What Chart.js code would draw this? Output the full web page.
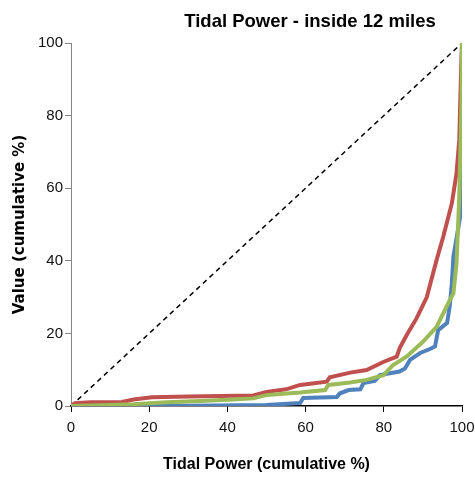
<!DOCTYPE html>
<html>
<head>
<meta charset="utf-8">
<script src="https://cdn.jsdelivr.net/npm/chart.js@4"></script>
<style>
  html, body { margin: 0; padding: 0; background: #fff; }
  #wrap { width: 475px; height: 478px; position: relative; }
</style>
</head>
<body>
<div id="wrap"><canvas id="chart"></canvas></div>
<script>
// valores (x = tidal power cumulativo %, y = value cumulativo %)
var blueX = [0, 30, 50, 58.6, 59.4, 68, 68.8, 71, 74, 74.8, 77.7, 79, 84, 85.4, 86.7, 89.3, 91.8, 93.1, 93.9, 96.2, 96.9, 97.4, 97.8, 99.5, 100];
var blueY = [0, 0.1, 0.3, 0.8, 2.2, 2.5, 3.5, 4.4, 4.6, 6.3, 6.9, 8.5, 9.5, 10.3, 12.7, 14.6, 15.7, 16.4, 20.9, 22.9, 27.8, 33.8, 41.1, 52, 100];

var redX = [0, 1, 5, 13, 16, 20.7, 30, 46.6, 50, 55, 58.6, 65.4, 66.2, 71.4, 75.6, 80, 83.3, 84.1, 85.9, 88.4, 91, 93.5, 95.2, 97.4, 98.6, 99.3, 99.7, 100];
var redY = [0, 0.8, 1, 1.1, 1.8, 2.4, 2.6, 2.9, 3.9, 4.6, 5.8, 6.7, 7.9, 9.2, 9.9, 12.2, 13.6, 16, 19.6, 24.2, 30, 40.2, 46.6, 55.8, 64.1, 73.3, 89.8, 100];

var greenX = [0, 10, 15.9, 24.5, 33, 41.4, 46.6, 50, 58.6, 65, 65.8, 71.4, 75.6, 79.9, 82.4, 85.8, 90, 93.5, 96.9, 97.8, 98.6, 99.3, 99.9, 100];
var greenY = [0, 0.3, 0.5, 1.0, 1.4, 1.8, 2.1, 3.0, 3.7, 4.4, 5.8, 6.5, 7.2, 8.5, 11.3, 13.6, 17.7, 21.8, 29.2, 31, 39.3, 57.7, 85, 100];

var diagX = [0, 100];
var diagY = [0, 100];

var tickVals = [0, 20, 40, 60, 80, 100];

function pts(xs, ys) {
    return xs.map(function (v, i) { return {x: v, y: ys[i]}; });
}

var FONT = "'Liberation Sans', sans-serif";

// titulo desenhado a mao pra ficar deslocado igual ao original
var titlePlugin = {
    id: 'titulo',
    afterDraw: function (chart) {
        var c = chart.ctx;
        c.save();
        c.font = 'bold 18.5px ' + FONT;
        c.fillStyle = '#000';
        c.textAlign = 'center';
        c.textBaseline = 'middle';
        c.fillText('Tidal Power - inside 12 miles', 310, 22);
        c.restore();
    }
};

var ctx = document.getElementById('chart').getContext('2d');
var myChart = new Chart(ctx, {
    type: 'scatter',
    data: {
        datasets: [
            {label: 'diag', data: pts(diagX, diagY), showLine: true, borderColor: '#000', borderWidth: 1.5, borderDash: [5, 4], pointRadius: 0, order: 4},
            {label: 'blue', data: pts(blueX, blueY), showLine: true, borderColor: '#4F81BD', borderWidth: 4, pointRadius: 0, order: 3},
            {label: 'red', data: pts(redX, redY), showLine: true, borderColor: '#C0504D', borderWidth: 4, pointRadius: 0, order: 2},
            {label: 'green', data: pts(greenX, greenY), showLine: true, borderColor: '#9BBB59', borderWidth: 4, pointRadius: 0, order: 1}
        ]
    },
    options: {
        responsive: true,
        maintainAspectRatio: false,
        animation: false,
        layout: {padding: {top: 43, right: 13, left: 0, bottom: 0}},
        plugins: {
            legend: {display: false},
            tooltip: {enabled: false}
        },
        scales: {
            x: {
                type: 'linear', min: 0, max: 100,
                afterBuildTicks: function (s) { s.ticks = tickVals.map(function (v) { return {value: v}; }); },
                afterFit: function (s) { s.height = 72; s.paddingRight = 0; },
                grid: {drawOnChartArea: false, tickLength: 6, color: '#000'},
                border: {color: '#000', width: 1.5},
                ticks: {color: '#111', padding: 7, font: {family: FONT, size: 15}, maxRotation: 0},
                title: {display: true, text: 'Tidal Power (cumulative %)', color: '#000', font: {family: FONT, size: 16, weight: 'bold'}, padding: {top: 0, bottom: 4}}
            },
            y: {
                type: 'linear', min: 0, max: 100,
                afterBuildTicks: function (s) { s.ticks = tickVals.map(function (v) { return {value: v}; }); },
                afterFit: function (s) { s.width = 71; },
                grid: {drawOnChartArea: false, tickLength: 6, color: '#868686'},
                border: {color: '#868686', width: 1},
                ticks: {color: '#111', padding: 2, font: {family: FONT, size: 15}},
                title: {display: true, text: 'Value (cumulative %)', color: '#000', font: {family: "'DejaVu Sans', sans-serif", size: 15, weight: 'bold'}, padding: {top: 11, bottom: 0}}
            }
        }
    },
    plugins: [titlePlugin]
});
</script>
</body>
</html>
